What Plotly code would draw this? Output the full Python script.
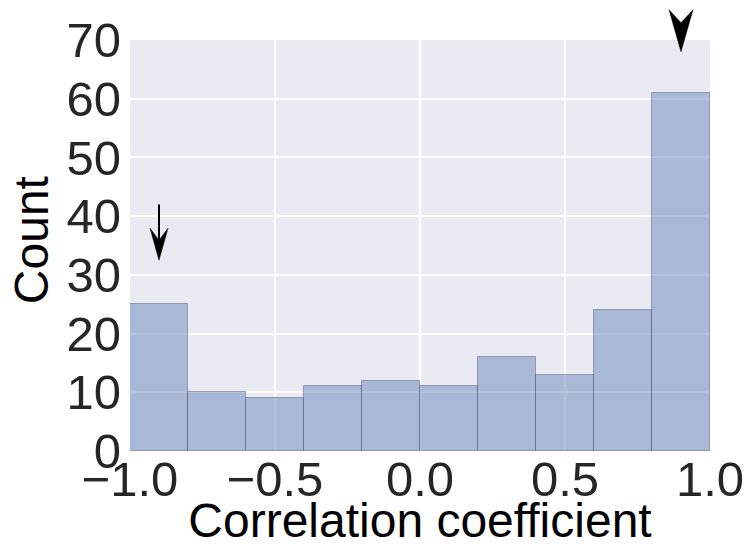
import numpy as np
import plotly.graph_objects as go

# Histogram of correlation coefficients: 10 bins of width 0.2 over [-1, 1]
bin_edges = [-1.0, -0.8, -0.6, -0.4, -0.2, 0.0, 0.2, 0.4, 0.6, 0.8, 1.0]
counts = [25, 10, 9, 11, 12, 11, 16, 13, 24, 61]

x_ticks = [-1.0, -0.5, 0.0, 0.5, 1.0]
x_tick_text = ["\u22121.0", "\u22120.5", "0.0", "0.5", "1.0"]
y_ticks = [0, 10, 20, 30, 40, 50, 60, 70]

x_label = "Correlation coefficient"
y_label = "Count"

# Arrow markers (data units): a plain arrow over the first bin, a head over the last
arrow_down = {"x": -0.9, "tip": 32.5, "tail": 42.0}
arrow_head_only = {"x": 0.9, "tip": 68.0}

X_RANGE = [-1.0, 1.0]
Y_RANGE = [0.0, 70.0]

W, H = 750, 547
M = dict(l=130, r=40, t=40, b=96)
PLOT_W = W - M["l"] - M["r"]
PLOT_H = H - M["t"] - M["b"]
PX_PER_X = PLOT_W / (X_RANGE[1] - X_RANGE[0])

FONT = "Liberation Sans, Arial, Helvetica, sans-serif"
TXT = "#262626"
BG = "#EAEAF2"

edges = np.array(bin_edges)
centers = (edges[:-1] + edges[1:]) / 2
widths = np.diff(edges)

fig = go.Figure()
fig.add_trace(go.Bar(
    x=centers, y=counts, width=widths,
    marker=dict(color="rgba(76,114,176,0.42)",
                line=dict(color="rgba(70,80,110,0.45)", width=1)),
    hoverinfo="skip", showlegend=False,
))


def yp(v):
    """Data y value -> paper coordinate."""
    return (v - Y_RANGE[0]) / (Y_RANGE[1] - Y_RANGE[0])


def head_path(x_tip, y_tip, length_px, width_px, notch_px):
    dx = width_px / 2 / PX_PER_X
    ty = yp(y_tip)
    by = ty + length_px / PLOT_H
    ny = ty + (length_px - notch_px) / PLOT_H
    return (f"M {x_tip},{ty} L {x_tip - dx},{by} L {x_tip},{ny} "
            f"L {x_tip + dx},{by} Z"), ny


shapes = []
p1, notch1 = head_path(arrow_down["x"], arrow_down["tip"], 32, 18, 12)
shapes.append(dict(type="line", xref="x", yref="paper",
                   x0=arrow_down["x"], x1=arrow_down["x"],
                   y0=yp(arrow_down["tail"]), y1=notch1,
                   line=dict(color="black", width=2)))
shapes.append(dict(type="path", xref="x", yref="paper", path=p1,
                   fillcolor="black", line=dict(color="black", width=0.5)))
p2, _ = head_path(arrow_head_only["x"], arrow_head_only["tip"], 42, 24, 13)
shapes.append(dict(type="path", xref="x", yref="paper", path=p2,
                   fillcolor="black", line=dict(color="black", width=0.5)))

# Y axis title, rotated, placed in the left margin
annotations = [dict(text=y_label, textangle=-90, showarrow=False,
                    xref="paper", yref="paper",
                    x=-99 / PLOT_W, y=0.513, xanchor="center", yanchor="middle",
                    font=dict(family=FONT, size=48, color="black"))]

fig.update_layout(
    width=W, height=H, margin=M,
    paper_bgcolor="white", plot_bgcolor=BG,
    bargap=0, shapes=shapes, annotations=annotations,
    font=dict(family=FONT, size=49, color=TXT),
    xaxis=dict(range=X_RANGE, tickvals=x_ticks, ticktext=x_tick_text,
               automargin=False,
               showgrid=True, gridcolor="white", gridwidth=1.5,
               zeroline=False, showline=False, ticks="",
               ticklabelstandoff=-5,
               tickfont=dict(size=49, color=TXT),
               title=dict(text=x_label, font=dict(size=48, color="black"),
                          standoff=18)),
    yaxis=dict(range=Y_RANGE, tickvals=y_ticks,
               automargin=False,
               showgrid=True, gridcolor="white", gridwidth=1.5,
               zeroline=False, showline=False, ticks="",
               ticklabelstandoff=8,
               tickfont=dict(size=49, color=TXT)),
)

fig.write_html("out.html")
